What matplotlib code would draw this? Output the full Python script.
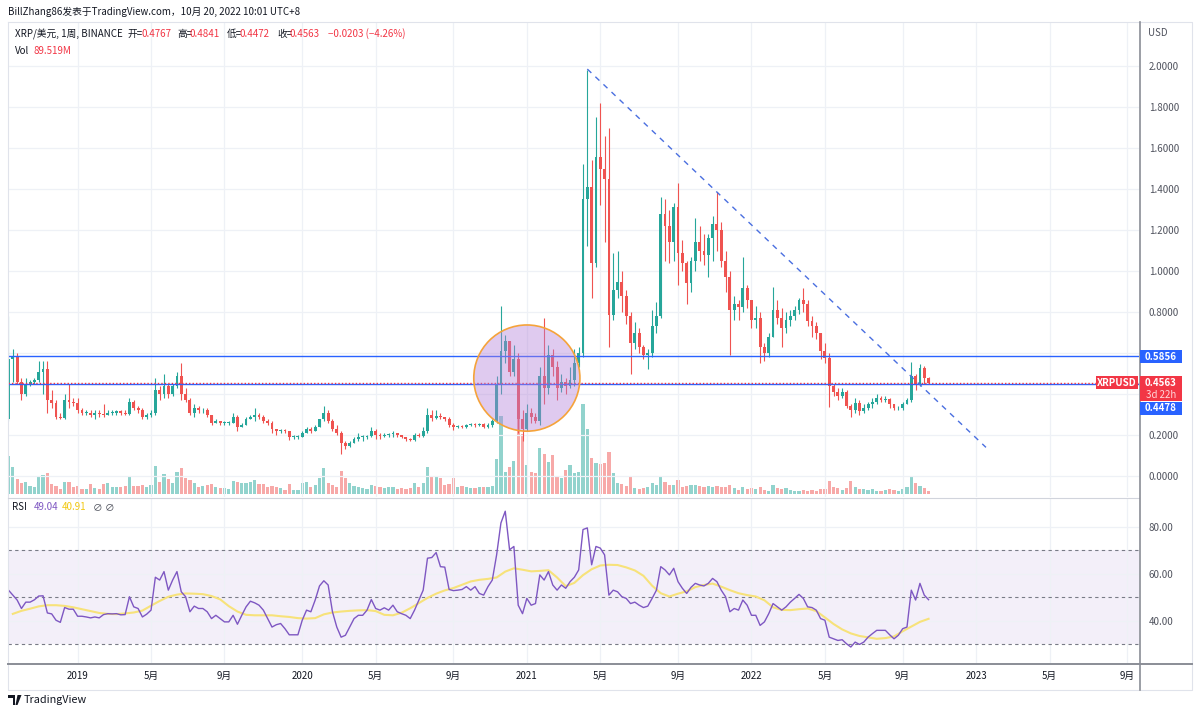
#!/usr/bin/env python3
"""
XRP/USD weekly (BINANCE) chart in TradingView style, redrawn with matplotlib.

Price pane: candles, volume overlay, two horizontal levels, a falling trend
line and a highlight circle. Lower pane: RSI with its moving average.

Output: out.png (1200x714)
"""

from __future__ import annotations

import matplotlib

matplotlib.use("Agg")
import matplotlib.dates as mdates
import matplotlib.pyplot as plt
from matplotlib.lines import Line2D
from matplotlib.patches import Ellipse, Polygon, Rectangle
import numpy as np
import pandas as pd

plt.rcParams["font.family"] = ["Noto Sans CJK SC", "DejaVu Sans"]

# ---- data: weekly bars (Monday dates) ----
FIRST_WEEK = "2018-09-17"
FIRST_OPEN = 0.28

CLOSE = [
    0.57, 0.58, 0.46, 0.40, 0.45, 0.46, 0.47, 0.51, 0.52, 0.37,
    0.355, 0.29, 0.285, 0.37, 0.36, 0.355, 0.32, 0.31, 0.31, 0.30,
    0.31, 0.305, 0.30, 0.31, 0.31, 0.315, 0.31, 0.305, 0.36, 0.33,
    0.32, 0.29, 0.30, 0.31, 0.42, 0.40, 0.44, 0.40, 0.44, 0.49,
    0.40, 0.37, 0.31, 0.33, 0.32, 0.32, 0.30, 0.26, 0.27, 0.26,
    0.26, 0.26, 0.29, 0.24, 0.25, 0.28, 0.29, 0.30, 0.29, 0.27,
    0.26, 0.23, 0.22, 0.225, 0.22, 0.19, 0.19, 0.19, 0.21, 0.23,
    0.22, 0.24, 0.28, 0.31, 0.27, 0.23, 0.21, 0.16, 0.145, 0.16,
    0.18, 0.19, 0.19, 0.195, 0.22, 0.20, 0.195, 0.20, 0.205, 0.21,
    0.20, 0.19, 0.18, 0.175, 0.20, 0.197, 0.22, 0.30, 0.285, 0.295,
    0.29, 0.28, 0.25, 0.24, 0.245, 0.24, 0.25, 0.255, 0.25, 0.255,
    0.24, 0.25, 0.27, 0.45, 0.61, 0.66, 0.51, 0.57, 0.28, 0.23,
    0.31, 0.29, 0.27, 0.49, 0.43, 0.59, 0.53, 0.43, 0.46, 0.44,
    0.47, 0.55, 0.60, 1.35, 1.41, 1.04, 1.556, 1.50, 1.45, 0.785,
    0.907, 0.946, 0.88, 0.78, 0.65, 0.70, 0.63, 0.59, 0.60, 0.73,
    0.78, 1.28, 1.22, 1.14, 1.31, 1.09, 1.04, 0.94, 1.05, 1.14,
    1.10, 1.08, 1.16, 1.23, 1.20, 1.05, 0.97, 0.81, 0.84, 0.825,
    0.917, 0.858, 0.76, 0.77, 0.63, 0.60, 0.68, 0.81, 0.77, 0.72,
    0.76, 0.78, 0.81, 0.86, 0.84, 0.755, 0.73, 0.70, 0.61, 0.575,
    0.44, 0.41, 0.39, 0.41, 0.34, 0.32, 0.355, 0.315, 0.33, 0.35,
    0.36, 0.38, 0.37, 0.375, 0.35, 0.33, 0.33, 0.35, 0.37, 0.49,
    0.445, 0.527, 0.4767, 0.4563,
]

HIGH = [
    0.78, 0.62, 0.60, 0.48, 0.48, 0.47, 0.48, 0.56, 0.56, 0.56,
    0.42, 0.37, 0.31, 0.40, 0.45, 0.38, 0.38, 0.33, 0.32, 0.32,
    0.32, 0.32, 0.35, 0.32, 0.32, 0.32, 0.32, 0.32, 0.38, 0.37,
    0.34, 0.33, 0.31, 0.32, 0.48, 0.44, 0.50, 0.45, 0.45, 0.51,
    0.55, 0.43, 0.38, 0.35, 0.34, 0.33, 0.33, 0.30, 0.28, 0.27,
    0.27, 0.27, 0.31, 0.30, 0.26, 0.29, 0.30, 0.33, 0.31, 0.30,
    0.28, 0.27, 0.23, 0.23, 0.23, 0.22, 0.20, 0.20, 0.22, 0.24,
    0.24, 0.25, 0.28, 0.34, 0.32, 0.28, 0.25, 0.22, 0.17, 0.17,
    0.19, 0.21, 0.20, 0.20, 0.24, 0.23, 0.21, 0.21, 0.21, 0.22,
    0.21, 0.20, 0.19, 0.185, 0.21, 0.21, 0.24, 0.33, 0.32, 0.32,
    0.31, 0.29, 0.29, 0.26, 0.25, 0.25, 0.255, 0.26, 0.26, 0.26,
    0.26, 0.26, 0.28, 0.49, 0.83, 0.69, 0.66, 0.64, 0.60, 0.32,
    0.35, 0.33, 0.31, 0.53, 0.77, 0.64, 0.62, 0.56, 0.50, 0.48,
    0.53, 0.62, 0.63, 1.52, 1.98, 1.54, 1.75, 1.82, 1.66, 1.70,
    1.09, 1.10, 1.00, 0.91, 0.80, 0.75, 0.72, 0.64, 0.62, 0.81,
    0.85, 1.36, 1.35, 1.30, 1.33, 1.43, 1.15, 1.05, 1.07, 1.26,
    1.22, 1.18, 1.18, 1.27, 1.385, 1.24, 1.10, 1.00, 0.88, 0.86,
    1.07, 0.93, 0.86, 0.83, 0.80, 0.65, 0.70, 0.92, 0.86, 0.82,
    0.80, 0.81, 0.83, 0.87, 0.917, 0.86, 0.78, 0.75, 0.70, 0.65,
    0.60, 0.45, 0.43, 0.43, 0.42, 0.35, 0.38, 0.37, 0.35, 0.36,
    0.38, 0.40, 0.39, 0.39, 0.38, 0.35, 0.34, 0.36, 0.38, 0.556,
    0.50, 0.546, 0.535, 0.4841,
]

LOW = [
    0.27, 0.46, 0.45, 0.37, 0.39, 0.44, 0.45, 0.46, 0.40, 0.31,
    0.33, 0.28, 0.28, 0.28, 0.33, 0.34, 0.31, 0.30, 0.30, 0.29,
    0.28, 0.29, 0.29, 0.30, 0.30, 0.30, 0.30, 0.30, 0.30, 0.32,
    0.31, 0.28, 0.28, 0.29, 0.30, 0.37, 0.38, 0.38, 0.39, 0.43,
    0.37, 0.36, 0.30, 0.29, 0.31, 0.31, 0.29, 0.25, 0.26, 0.25,
    0.25, 0.25, 0.26, 0.22, 0.24, 0.25, 0.28, 0.27, 0.28, 0.26,
    0.25, 0.21, 0.20, 0.21, 0.21, 0.175, 0.18, 0.18, 0.19, 0.21,
    0.21, 0.22, 0.24, 0.27, 0.26, 0.22, 0.20, 0.11, 0.13, 0.14,
    0.16, 0.17, 0.17, 0.18, 0.19, 0.18, 0.18, 0.19, 0.19, 0.19,
    0.19, 0.185, 0.17, 0.17, 0.17, 0.19, 0.19, 0.21, 0.27, 0.28,
    0.28, 0.27, 0.24, 0.225, 0.235, 0.235, 0.235, 0.245, 0.24, 0.245,
    0.235, 0.235, 0.24, 0.26, 0.40, 0.55, 0.49, 0.49, 0.21, 0.17,
    0.22, 0.26, 0.26, 0.25, 0.35, 0.40, 0.49, 0.37, 0.41, 0.40,
    0.43, 0.44, 0.53, 0.58, 1.12, 0.87, 1.02, 1.32, 1.14, 0.63,
    0.76, 0.87, 0.80, 0.74, 0.50, 0.62, 0.60, 0.57, 0.52, 0.58,
    0.70, 0.77, 1.05, 1.04, 1.05, 0.93, 1.00, 0.84, 0.90, 1.00,
    1.05, 1.03, 0.97, 1.05, 1.10, 1.02, 0.90, 0.59, 0.76, 0.76,
    0.80, 0.82, 0.72, 0.72, 0.55, 0.56, 0.58, 0.68, 0.74, 0.63,
    0.70, 0.73, 0.76, 0.79, 0.80, 0.73, 0.68, 0.67, 0.57, 0.55,
    0.335, 0.39, 0.37, 0.38, 0.33, 0.287, 0.31, 0.30, 0.31, 0.32,
    0.33, 0.35, 0.36, 0.36, 0.33, 0.32, 0.32, 0.32, 0.35, 0.36,
    0.42, 0.44, 0.45, 0.4472,
]

VOLUME_M = [
    1140, 810, 450, 330, 360, 240, 210, 510, 570, 630,
    300, 240, 150, 360, 360, 210, 240, 150, 150, 300,
    180, 150, 300, 330, 210, 210, 210, 240, 510, 240,
    240, 270, 210, 270, 840, 360, 600, 450, 330, 660,
    780, 480, 420, 330, 210, 240, 270, 300, 210, 180,
    180, 150, 390, 360, 330, 330, 360, 420, 300, 300,
    210, 240, 210, 180, 120, 300, 120, 120, 330, 360,
    210, 270, 480, 780, 330, 270, 210, 690, 480, 330,
    240, 210, 180, 150, 270, 240, 210, 180, 210, 210,
    150, 180, 150, 180, 330, 210, 330, 810, 540, 510,
    480, 270, 300, 480, 210, 240, 210, 180, 180, 210,
    210, 210, 240, 1050, 2310, 660, 810, 990, 2700, 1800,
    870, 660, 630, 1380, 1200, 960, 1170, 510, 480, 720,
    870, 630, 660, 2670, 1950, 1080, 930, 900, 930, 1260,
    630, 330, 300, 240, 510, 180, 150, 180, 210, 330,
    270, 510, 360, 270, 270, 420, 210, 240, 270, 270,
    240, 210, 240, 210, 240, 210, 210, 270, 180, 120,
    210, 150, 180, 150, 210, 120, 90, 270, 180, 150,
    180, 120, 90, 90, 120, 90, 120, 90, 150, 150,
    390, 210, 180, 120, 180, 390, 210, 150, 150, 120,
    150, 90, 90, 120, 150, 120, 90, 150, 210, 540,
    330, 240, 180, 89.519,
]

RSI = [
    53.1, 51.0, 48.9, 45.3, 48.0, 48.0, 49.0, 50.6, 50.7, 43.4,
    43.0, 40.3, 39.4, 45.7, 45.0, 45.0, 42.0, 42.0, 41.7, 41.3,
    41.7, 41.3, 42.7, 43.1, 43.0, 43.1, 42.6, 42.7, 50.3, 46.0,
    45.3, 41.7, 42.9, 44.6, 58.6, 57.4, 61.0, 53.1, 57.4, 61.0,
    52.4, 50.3, 43.9, 46.3, 45.3, 45.3, 43.9, 41.0, 42.4, 41.0,
    39.6, 39.6, 42.4, 38.6, 42.4, 46.0, 48.4, 47.7, 46.7, 44.6,
    41.0, 37.4, 38.4, 38.9, 36.7, 34.1, 34.1, 34.1, 40.3, 44.6,
    43.9, 48.9, 54.9, 57.1, 55.3, 43.9, 37.4, 33.1, 33.9, 37.4,
    41.0, 42.4, 42.4, 44.6, 49.1, 45.3, 44.6, 45.6, 44.6, 46.7,
    43.9, 43.1, 42.4, 41.0, 44.6, 48.9, 53.1, 66.7, 67.0, 69.1,
    63.1, 62.9, 53.4, 52.9, 53.1, 53.4, 54.6, 53.1, 54.6, 51.7,
    51.0, 54.6, 57.4, 68.1, 81.7, 86.7, 70.3, 71.7, 46.7, 43.1,
    49.6, 46.7, 47.4, 59.6, 57.4, 61.0, 55.3, 53.1, 55.3, 53.9,
    56.7, 58.6, 61.7, 78.9, 79.6, 63.9, 71.7, 71.0, 68.1, 51.0,
    53.1, 52.4, 50.3, 49.6, 47.4, 48.0, 46.7, 45.7, 46.3, 49.6,
    53.1, 63.1, 61.7, 59.6, 62.4, 56.7, 53.9, 51.7, 54.3, 56.0,
    55.3, 54.9, 56.0, 58.1, 56.7, 53.1, 50.3, 43.9, 45.3, 44.6,
    48.9, 46.7, 42.4, 42.4, 38.1, 39.6, 43.1, 47.4, 46.0, 44.6,
    46.0, 48.0, 49.6, 51.3, 49.6, 46.0, 45.7, 44.6, 41.0, 40.3,
    33.1, 32.4, 31.7, 32.0, 30.3, 28.9, 31.0, 30.0, 31.0, 33.1,
    34.6, 36.0, 36.0, 36.0, 34.1, 32.4, 33.9, 36.7, 37.4, 53.1,
    48.9, 56.0, 51.0, 49.04,
]

# RSI moving average, read at every other week (weeks 1, 3, 5, ... 213)
RSI_MA_ODD = [
    43.0, 44.3, 45.2, 46.2, 46.7, 46.7, 46.4, 45.8, 45.0, 44.2,
    43.4, 43.0, 42.9, 43.2, 43.6, 44.4, 46.5, 48.5, 50.3, 51.2,
    51.7, 51.6, 51.4, 50.6, 49.2, 46.3, 44.0, 42.6, 42.4, 42.4,
    42.4, 42.0, 41.7, 41.2, 41.0, 41.2, 42.8, 43.6, 44.0, 44.3,
    44.5, 44.6, 44.2, 42.6, 42.4, 43.5, 45.4, 47.6, 49.8, 51.6,
    53.0, 54.0, 55.4, 56.8, 57.5, 57.9, 58.5, 61.0, 62.4, 61.8,
    61.1, 61.3, 61.6, 58.5, 54.8, 56.2, 59.5, 62.0, 63.6, 63.9,
    63.8, 62.8, 61.5, 59.2, 55.0, 51.8, 50.4, 51.6, 52.6, 54.4,
    55.3, 55.9, 54.6, 53.1, 51.8, 51.0, 50.4, 48.8, 45.8, 44.7,
    44.6, 45.0, 45.3, 44.2, 41.5, 38.7, 36.4, 34.7, 33.6, 33.0,
    32.4, 32.7, 33.4, 35.6, 37.6, 39.6, 40.91,
]

LEVEL_UPPER = 0.5856
LEVEL_LOWER = 0.4478
PRICE_CHANGE = "−0.0203 (−4.26%)"
VOLUME_LAST = "89.519M"
COUNTDOWN = "3d 22h"
HEADER = "BillZhang86发表于TradingView.com，10月 20, 2022 10:01 UTC+8"

# drawings placed on the chart by the author
TREND_FROM = ("2021-04-12", 1.985)
TREND_TO = ("2023-01-18", 0.14)
CIRCLE_CENTER = ("2021-01-04", 0.478)
CIRCLE_HALF_DAYS = 86
CIRCLE_HALF_PRICE = 0.259

# ---- style ----
GREEN = "#26a69a"
RED = "#ef5350"
RED_LABEL = "#f23645"
BLUE = "#2962ff"
TEXT = "#131722"
AXIS_TEXT = "#50535e"
GRID = "#eef1f6"
RSI_COLOR = "#7e57c2"
RSI_MA_COLOR = "#f7e27a"

W_PX, H_PX = 1200, 714
FS = 7


def fig_box(left: float, top: float, right: float, bottom: float) -> list[float]:
    return [left / W_PX, 1 - bottom / H_PX, (right - left) / W_PX, (bottom - top) / H_PX]


def fig_xy(x: float, y: float) -> tuple[float, float]:
    return x / W_PX, 1 - y / H_PX


def fig_text(fig, x, y, s, **kw):
    kw.setdefault("fontsize", FS)
    kw.setdefault("color", TEXT)
    kw.setdefault("va", "center")
    return fig.text(*fig_xy(x, y), s, **kw)


def fig_rect(fig, left, top, right, bottom, color):
    fig.patches.append(
        Rectangle(fig_xy(left, bottom), (right - left) / W_PX, (bottom - top) / H_PX,
                  transform=fig.transFigure, facecolor=color, edgecolor="none", zorder=10)
    )


def fig_line(fig, xs, ys, color, lw):
    fig.lines.append(
        Line2D([x / W_PX for x in xs], [1 - y / H_PX for y in ys],
               transform=fig.transFigure, color=color, linewidth=lw, zorder=10)
    )


def month_ticks(start: str, end: str) -> tuple[list[float], list[str]]:
    weeks = pd.date_range(start, end, freq="7D")
    seen: set[tuple[int, int]] = set()
    pos, labels = [], []
    for d in weeks:
        key = (d.year, d.month)
        if d.month not in (1, 5, 9) or key in seen or d.year < 2019:
            continue
        seen.add(key)
        pos.append(mdates.date2num(d))
        labels.append(str(d.year) if d.month == 1 else f"{d.month}月")
    return pos, labels


def main() -> int:
    dates = pd.date_range(FIRST_WEEK, periods=len(CLOSE), freq="7D")
    x = mdates.date2num(dates)
    close = np.array(CLOSE)
    high = np.array(HIGH)
    low = np.array(LOW)
    opn = np.concatenate([[FIRST_OPEN], close[:-1]])
    vol = np.array(VOLUME_M)
    up = close >= opn
    colors = np.where(up, GREEN, RED)

    fig = plt.figure(figsize=(12, 7.14), dpi=100)
    fig.patch.set_facecolor("white")

    ax = fig.add_axes(fig_box(8, 22, 1139, 497))
    axv = ax.twinx()
    axr = fig.add_axes(fig_box(8, 499, 1139, 663), sharex=ax)

    x0 = mdates.date2num(pd.Timestamp(FIRST_WEEK)) - 0.8
    x1 = mdates.date2num(pd.Timestamp(FIRST_WEEK)) + 1832
    ax.set_xlim(x0, x1)

    # volume overlay (bottom of the price pane, behind the candles)
    vol_colors = np.where(up, "#92d3cd", "#f7a9a8")
    axv.bar(x, vol, width=5.2, color=vol_colors, linewidth=0)
    axv.set_ylim(-90, 14070)
    axv.axis("off")
    ax.set_zorder(axv.get_zorder() + 1)
    ax.patch.set_visible(False)

    # candles
    ax.vlines(x, low, high, colors=colors, linewidth=0.8, zorder=3)
    body_lo = np.minimum(opn, close)
    body_h = np.maximum(np.abs(close - opn), 0.004)
    ax.bar(x, body_h, bottom=body_lo, width=4.6, color=colors, linewidth=0, zorder=4)

    # horizontal levels and the current price line
    ax.axhline(LEVEL_UPPER, color=BLUE, linewidth=1.0, zorder=5)
    ax.axhline(LEVEL_LOWER, color=BLUE, linewidth=1.0, zorder=5)
    ax.axhline(close[-1], color=RED_LABEL, linewidth=1.0, linestyle=(0, (1, 1.5)), zorder=5)

    # trend line
    tx = [mdates.date2num(pd.Timestamp(TREND_FROM[0])), mdates.date2num(pd.Timestamp(TREND_TO[0]))]
    ty = [TREND_FROM[1], TREND_TO[1]]
    ax.plot(tx, ty, color="#4a6fe0", linewidth=1.0, linestyle=(0, (4, 4)), zorder=5)

    # highlight circle
    cx = mdates.date2num(pd.Timestamp(CIRCLE_CENTER[0]))
    ax.add_patch(Ellipse((cx, CIRCLE_CENTER[1]), 2 * CIRCLE_HALF_DAYS, 2 * CIRCLE_HALF_PRICE,
                         facecolor=(0.706, 0.51, 0.851, 0.42), edgecolor="#f5a33a",
                         linewidth=1.2, zorder=6))

    # price axis
    ax.set_ylim(-0.102, (476 - 22) / 205)
    yt = np.round(np.arange(0, 2.01, 0.2), 1)
    ax.set_yticks(yt)
    ax.set_yticklabels(["" if v in (0.4, 0.6) else f"{v:.4f}" for v in yt])
    ax.yaxis.tick_right()
    ax.tick_params(axis="y", length=0, pad=7, labelsize=FS, labelcolor=AXIS_TEXT)
    ax.tick_params(axis="x", length=0, labelbottom=False)
    ax.grid(True, color=GRID, linewidth=0.9)
    ax.set_axisbelow(True)
    for s in ax.spines.values():
        s.set_visible(False)

    # RSI pane
    axr.axhspan(30, 70, color=RSI_COLOR, alpha=0.09, linewidth=0, zorder=0)
    for lvl in (70, 50, 30):
        axr.axhline(lvl, color="#787b86", linewidth=0.8, linestyle=(0, (3, 3)), zorder=1)
    axr.plot(dates[1::2], RSI_MA_ODD, color=RSI_MA_COLOR, linewidth=1.5, zorder=2)
    axr.plot(dates, RSI, color=RSI_COLOR, linewidth=1.0, zorder=3)
    axr.set_ylim(22.1, 91.9)
    axr.set_yticks([40, 60, 80])
    axr.set_yticklabels(["40.00", "60.00", "80.00"])
    axr.yaxis.tick_right()
    axr.tick_params(axis="y", length=0, pad=7, labelsize=FS, labelcolor=AXIS_TEXT)
    pos, labels = month_ticks(FIRST_WEEK, "2023-12-31")
    axr.set_xticks(pos)
    axr.set_xticklabels(labels)
    axr.tick_params(axis="x", length=0, pad=6, labelsize=FS, labelcolor=TEXT)
    axr.grid(True, color=GRID, linewidth=0.9)
    axr.set_axisbelow(True)
    for s in axr.spines.values():
        s.set_visible(False)
    axr.set_xlim(x0, x1)

    # frame, axis lines, pane separator
    fig_line(fig, [8, 1192, 1192, 8, 8], [22, 22, 690, 690, 22], "#e0e3eb", 0.8)
    fig_line(fig, [8, 1139], [498, 498], "#d1d4dc", 0.8)
    fig_line(fig, [8, 1192], [663.5, 663.5], "#8a8d96", 1.4)
    fig_line(fig, [1139.5, 1139.5], [22, 690], "#8a8d96", 1.2)

    # header and legends
    fig_text(fig, 8, 12, HEADER, fontsize=FS)
    legend = [
        (15, "XRP/美元, 1周, BINANCE", TEXT),
        (128, "开=", TEXT), (141, f"{opn[-1]:.4f}", RED_LABEL),
        (177, "高=", TEXT), (190, f"{high[-1]:.4f}", RED_LABEL),
        (227, "低=", TEXT), (240, f"{low[-1]:.4f}", RED_LABEL),
        (277, "收=", TEXT), (290, f"{close[-1]:.4f}", RED_LABEL),
        (328, PRICE_CHANGE, RED_LABEL),
    ]
    for px, s, c in legend:
        fig_text(fig, px, 34, s, color=c)
    fig_text(fig, 15, 51, "Vol", color=TEXT)
    fig_text(fig, 33, 51, VOLUME_LAST, color=RED_LABEL)

    fig_text(fig, 12, 507, "RSI", color=TEXT)
    fig_text(fig, 34, 507, f"{RSI[-1]:.2f}", color=RSI_COLOR)
    fig_text(fig, 62, 507, f"{RSI_MA_ODD[-1]:.2f}", color="#f2c811")
    fig_text(fig, 93, 507, "∅", color=AXIS_TEXT)
    fig_text(fig, 105, 507, "∅", color=AXIS_TEXT)

    # right-hand axis labels
    fig_text(fig, 1148, 33, "USD", color=AXIS_TEXT)
    fig_rect(fig, 1140, 350, 1182, 363, BLUE)
    fig_text(fig, 1161, 356.5, f"{LEVEL_UPPER:.4f}", color="white", ha="center",
             fontweight="bold", zorder=11)
    fig_rect(fig, 1140, 376, 1182, 401, RED_LABEL)
    fig_text(fig, 1161, 382.5, f"{close[-1]:.4f}", color="white", ha="center",
             fontweight="bold", zorder=11)
    fig_text(fig, 1161, 394.5, COUNTDOWN, color="#ffd6d9", ha="center", zorder=11)
    fig_rect(fig, 1140, 401.5, 1182, 414.5, BLUE)
    fig_text(fig, 1161, 408, f"{LEVEL_LOWER:.4f}", color="white", ha="center",
             fontweight="bold", zorder=11)
    fig_rect(fig, 1096, 376.5, 1138, 389, RED_LABEL)
    fig_text(fig, 1117, 382.8, "XRPUSD", color="white", ha="center",
             fontweight="bold", zorder=11)

    # TradingView mark at the bottom left
    logo = "#131722"
    fig.patches.append(Polygon([fig_xy(*p) for p in [(8, 695), (15, 695), (15, 705), (12.5, 705),
                                                        (12.5, 698), (8, 698)]],
                               closed=True, transform=fig.transFigure, facecolor=logo,
                               edgecolor="none"))
    fig.patches.append(Polygon([fig_xy(*p) for p in [(17.5, 695), (21.5, 695), (17.5, 705),
                                                        (15.5, 705)]],
                               closed=True, transform=fig.transFigure, facecolor=logo,
                               edgecolor="none"))
    fig_text(fig, 24, 700, "TradingView", fontsize=FS + 0.8, color=logo)

    fig.savefig("out.png", dpi=100, facecolor="white")
    plt.close(fig)
    return 0


if __name__ == "__main__":
    raise SystemExit(main())
